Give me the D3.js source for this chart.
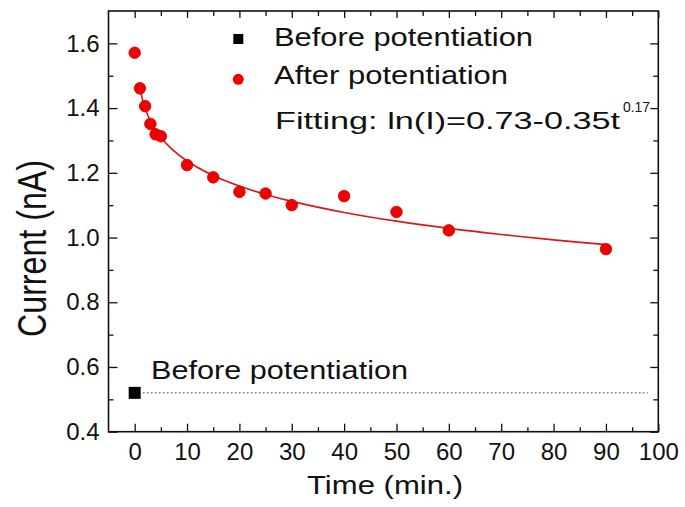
<!DOCTYPE html>
<html>
<head>
<meta charset="utf-8">
<script src="https://cdn.jsdelivr.net/npm/d3@7"></script>
<style>
  html, body { margin: 0; padding: 0; background: #fff; }
  svg { display: block; }
  text { font-family: "Liberation Sans", Arial, sans-serif; fill: #111; }
</style>
</head>
<body>
<svg id="chart" width="685" height="507"></svg>
<script>
// ---- data ----
const afterTime    = [0, 1, 2, 3, 4, 5, 10, 15, 20, 25, 30, 40, 50, 60, 90];
const afterCurrent = [1.571, 1.461, 1.406, 1.351, 1.319, 1.313, 1.224, 1.186, 1.141, 1.136, 1.100, 1.128, 1.079, 1.022, 0.964];
const beforeTime    = [0];
const beforeCurrent = [0.52];
const beforeLineTime = [0, 98];
// fitted curve ln(I)=0.73-0.35t^0.17, values read/evaluated at these times
const fitTime    = [1, 1.5, 2, 2.5, 3, 4, 5, 7, 10, 15, 20, 25, 30, 40, 50, 60, 70, 80, 90];
const fitCurrent = [1.4623, 1.4262, 1.3997, 1.3785, 1.3609, 1.3324, 1.3098, 1.2748, 1.2365, 1.1917, 1.1590, 1.1332, 1.1118, 1.0776, 1.0506, 1.0283, 1.0094, 0.9928, 0.9781];
const xTicks = [0, 10, 20, 30, 40, 50, 60, 70, 80, 90, 100];
const xMinorTicks = [5, 15, 25, 35, 45, 55, 65, 75, 85, 95];
const yTicks = [0.4, 0.6, 0.8, 1.0, 1.2, 1.4, 1.6];
const yMinorTicks = [0.5, 0.7, 0.9, 1.1, 1.3, 1.5];
const xLabel = "Time (min.)";
const yLabel = "Current (nA)";
const legendBefore = "Before potentiation";
const legendAfter = "After potentiation";
const fitLabel = "Fitting: ln(I)=0.73-0.35t";
const fitExponent = "0.17";
const annotation = "Before potentiation";

// ---- layout ----
const svg = d3.select("#chart");
const L = 108.5, R = 658.3, T = 11, B = 431.7;
const x = d3.scaleLinear().domain([-5, 100]).range([L, R]);
const y = d3.scaleLinear().domain([0.4, 1.7]).range([B, T]);

const red = "#f00000";

// dotted reference line
svg.append("line")
  .attr("x1", x(beforeLineTime[0]) + 8).attr("x2", x(beforeLineTime[1]))
  .attr("y1", y(beforeCurrent[0])).attr("y2", y(beforeCurrent[0]))
  .attr("stroke", "#777").attr("stroke-width", 1.1)
  .attr("stroke-dasharray", "2,2");

// fit curve
const fitData = fitTime.map((t, i) => [t, fitCurrent[i]]);
svg.append("path")
  .datum(fitData)
  .attr("fill", "none")
  .attr("stroke", "#dd1515")
  .attr("stroke-width", 1.6)
  .attr("d", d3.line().x(d => x(d[0])).y(d => y(d[1])).curve(d3.curveCatmullRom));

// after points
svg.append("g").selectAll("circle")
  .data(afterTime.map((t, i) => [t, afterCurrent[i]]))
  .join("circle")
  .attr("cx", d => x(d[0])).attr("cy", d => y(d[1]))
  .attr("r", 5.8)
  .attr("fill", red).attr("stroke", "#d00000").attr("stroke-width", 0.8);

// before point
svg.append("g").selectAll("rect")
  .data(beforeTime.map((t, i) => [t, beforeCurrent[i]]))
  .join("rect")
  .attr("x", d => x(d[0]) - 6).attr("y", d => y(d[1]) - 6)
  .attr("width", 12).attr("height", 12)
  .attr("fill", "#000");

// axes (ticks inward)
function styleAxis(g) {
  g.select(".domain").remove();
  g.selectAll(".tick line").attr("stroke", "#111").attr("stroke-width", 1.3);
  g.selectAll(".tick text").attr("fill", "#222")
    .style("font-family", '"Liberation Sans", Arial, sans-serif').style("font-size", "24px");
}
const fmt = d3.format(".1f");
svg.append("g").attr("transform", `translate(0,${B})`)
  .call(d3.axisBottom(x).tickValues(xTicks).tickSize(-8).tickPadding(11.5).tickFormat(d3.format("d")))
  .call(styleAxis);
svg.append("g").attr("transform", `translate(0,${B})`)
  .call(d3.axisBottom(x).tickValues(xMinorTicks).tickSize(-4.5).tickFormat(""))
  .call(styleAxis);
svg.append("g").attr("transform", `translate(0,${T})`)
  .call(d3.axisTop(x).tickValues(xTicks).tickSize(-7).tickFormat(""))
  .call(styleAxis);
svg.append("g").attr("transform", `translate(0,${T})`)
  .call(d3.axisTop(x).tickValues(xMinorTicks).tickSize(-5).tickFormat(""))
  .call(styleAxis);
svg.append("g").attr("transform", `translate(${L},0)`)
  .call(d3.axisLeft(y).tickValues(yTicks).tickSize(-9).tickPadding(9).tickFormat(fmt))
  .call(styleAxis);
svg.append("g").attr("transform", `translate(${L},0)`)
  .call(d3.axisLeft(y).tickValues(yMinorTicks).tickSize(-5).tickFormat(""))
  .call(styleAxis);
svg.append("g").attr("transform", `translate(${R},0)`)
  .call(d3.axisRight(y).tickValues(yTicks).tickSize(-8).tickFormat(""))
  .call(styleAxis);
svg.append("g").attr("transform", `translate(${R},0)`)
  .call(d3.axisRight(y).tickValues(yMinorTicks).tickSize(-5).tickFormat(""))
  .call(styleAxis);

// frame
svg.append("rect")
  .attr("x", L).attr("y", T).attr("width", R - L).attr("height", B - T)
  .attr("fill", "none").attr("stroke", "#111").attr("stroke-width", 1.6);

// axis labels
svg.append("text")
  .attr("x", 307).attr("y", 493.5)
  .attr("textLength", 156).attr("lengthAdjust", "spacingAndGlyphs")
  .style("font-size", "26px")
  .text(xLabel);
svg.append("text")
  .attr("transform", "translate(46,337) rotate(-90)")
  .attr("textLength", 177).attr("lengthAdjust", "spacingAndGlyphs")
  .style("font-size", "40px")
  .text(yLabel);

// legend
svg.append("rect").attr("x", 233.3).attr("y", 34).attr("width", 10).attr("height", 10).attr("fill", "#000");
svg.append("text").attr("x", 274).attr("y", 45.5)
  .attr("textLength", 259).attr("lengthAdjust", "spacingAndGlyphs")
  .style("font-size", "25px").text(legendBefore);
svg.append("circle").attr("cx", 238.3).attr("cy", 79.3).attr("r", 5.5).attr("fill", red);
svg.append("text").attr("x", 274).attr("y", 84)
  .attr("textLength", 234).attr("lengthAdjust", "spacingAndGlyphs")
  .style("font-size", "25px").text(legendAfter);
svg.append("text").attr("x", 275).attr("y", 128.5)
  .attr("textLength", 345).attr("lengthAdjust", "spacingAndGlyphs")
  .style("font-size", "24px").text(fitLabel);
svg.append("text").attr("x", 623).attr("y", 111.5)
  .attr("textLength", 27).attr("lengthAdjust", "spacingAndGlyphs")
  .style("font-size", "14px").text(fitExponent);

// annotation
svg.append("text").attr("x", 151).attr("y", 378.5)
  .attr("textLength", 257).attr("lengthAdjust", "spacingAndGlyphs")
  .style("font-size", "25.5px").text(annotation);
</script>
</body>
</html>
